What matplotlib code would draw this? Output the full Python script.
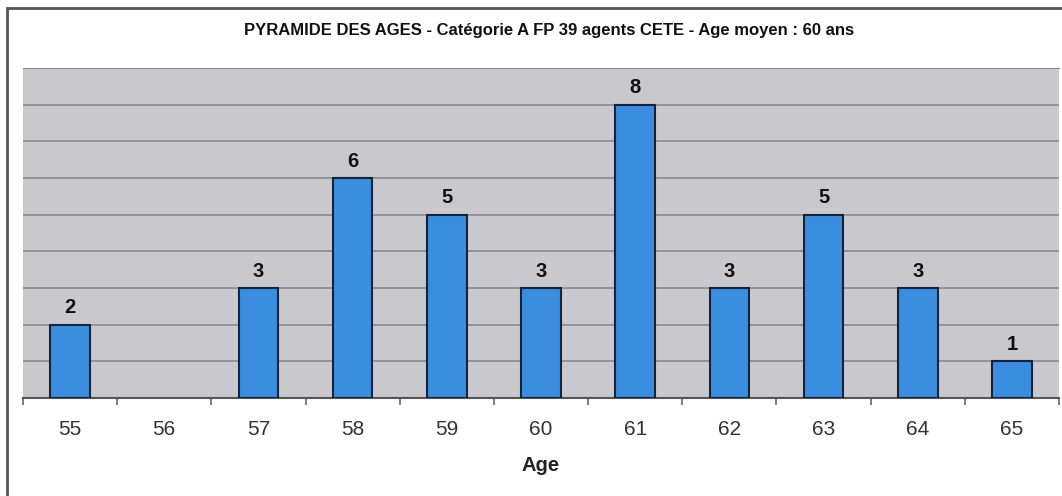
import matplotlib
matplotlib.use("Agg")
import matplotlib.pyplot as plt
from matplotlib.patches import Rectangle
import numpy as np

ages = ["55", "56", "57", "58", "59", "60", "61", "62", "63", "64", "65"]
counts = [2, 0, 3, 6, 5, 3, 8, 3, 5, 3, 1]
title = "PYRAMIDE DES AGES - Catégorie A FP 39 agents CETE - Age moyen : 60 ans"
xlabel = "Age"

plt.rcParams["font.family"] = ["Liberation Sans", "DejaVu Sans"]

fig = plt.figure(figsize=(10.62, 4.96), dpi=100)
fig.patch.set_facecolor("white")
# outer frame
fig.patches.append(Rectangle((7/1062, -0.05), 1.1, 1 - 8/496 + 0.05, transform=fig.transFigure,
                             fill=False, edgecolor="#555555", linewidth=2, zorder=0))

ax = fig.add_axes([23/1062, 1 - 398/496, (1059 - 23)/1062, (398 - 68)/496])
ax.set_facecolor("#c9c9cd")
x = np.arange(len(ages))
edge_lw = [1.5 if c > 0 else 0 for c in counts]
bars = ax.bar(x, counts, width=0.42, color="#3b8de0", edgecolor="#14243a", linewidth=edge_lw, zorder=3)
for xi, c in zip(x, counts):
    if c > 0:
        ax.text(xi, c + 0.2, str(c), ha="center", va="bottom", fontsize=14.5, fontweight="bold",
                color="#111111", zorder=4)

ax.set_xlim(-0.5, len(ages) - 0.5)
ax.set_ylim(0, 9)
ax.set_yticks(np.arange(0, 10))
ax.yaxis.grid(True, color="#8a8a8e", linewidth=1.2, zorder=1)
ax.tick_params(axis="y", left=False, labelleft=False)

ax.set_xticks(np.arange(-0.5, len(ages), 1.0))
ax.set_xticklabels([])
ax.set_xticks(x, minor=True)
ax.set_xticklabels(ages, minor=True, fontsize=15, color="#333333")
ax.tick_params(axis="x", which="major", length=5, width=1.2, color="#666666", direction="out")
ax.tick_params(axis="x", which="minor", length=0, pad=16)

for s in ["left", "right"]:
    ax.spines[s].set_visible(False)
ax.spines["top"].set_color("#8a8a8e")
ax.spines["bottom"].set_color("#555555")
ax.spines["bottom"].set_linewidth(1.5)

ax.set_xlabel(xlabel, fontsize=14.5, fontweight="bold", color="#222222", labelpad=12)
fig.text(549/1062, 1 - 31/496, title, ha="center", va="center", fontsize=12, fontweight="bold",
         color="#111111")

fig.savefig("out.png", dpi=100)
